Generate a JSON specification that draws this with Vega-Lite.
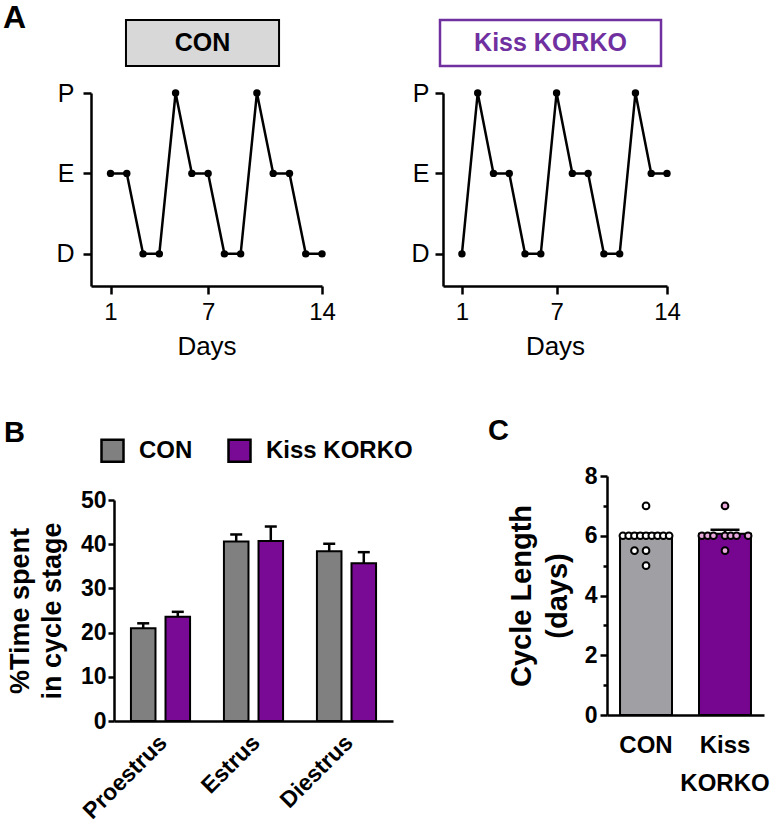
{
  "$schema": "https://vega.github.io/schema/vega-lite/v6.json",
  "padding": {"left": 3, "top": 1, "right": 5, "bottom": 5},
  "config": {
    "view": {"stroke": null},
    "font": "Liberation Sans",
    "axis": {"grid": false, "domainColor": "black", "tickColor": "black", "labelColor": "black", "titleColor": "black", "domainWidth": 2.5, "tickWidth": 2.5, "labelFont": "Liberation Sans", "titleFont": "Liberation Sans", "labelFlush": false, "labelOverlap": false},
    "title": {"font": "Liberation Sans", "color": "black", "fontWeight": "bold"}
  },
  "bounds": "flush",
  "align": "each",
  "columns": 2,
  "spacing": {"row": 190, "column": 50},
  "concat": [
    {
      "width": 231,
      "height": 193,
      "title": {"text": "A", "anchor": "start", "frame": "group", "fontSize": 32, "dx": -88, "dy": 20},
      "data": {"values": [
        {"day": 1, "stage": "E", "level": 2}, {"day": 2, "stage": "E", "level": 2}, {"day": 3, "stage": "D", "level": 1}, {"day": 4, "stage": "D", "level": 1},
        {"day": 5, "stage": "P", "level": 3}, {"day": 6, "stage": "E", "level": 2}, {"day": 7, "stage": "E", "level": 2}, {"day": 8, "stage": "D", "level": 1},
        {"day": 9, "stage": "D", "level": 1}, {"day": 10, "stage": "P", "level": 3}, {"day": 11, "stage": "E", "level": 2}, {"day": 12, "stage": "E", "level": 2},
        {"day": 13, "stage": "D", "level": 1}, {"day": 14, "stage": "D", "level": 1}
      ]},
      "layer": [
        {
          "data": {"values": [{"label": "CON"}]},
          "mark": {"type": "rect", "fill": "#d8d8d8", "stroke": "black", "strokeWidth": 2},
          "encoding": {
            "x": {"datum": 1.95, "type": "quantitative", "scale": {"domain": [-0.2, 14], "nice": false}},
            "x2": {"datum": 11.36},
            "y": {"datum": 3.336, "type": "quantitative", "scale": {"domain": [0.6, 3], "nice": false}},
            "y2": {"datum": 3.908}
          }
        },
        {
          "data": {"values": [{"label": "CON"}]},
          "mark": {"type": "text", "fontSize": 25, "fontWeight": "bold", "color": "black", "align": "center", "baseline": "middle"},
          "encoding": {
            "x": {"datum": 6.65, "type": "quantitative", "scale": {"domain": [-0.2, 14], "nice": false}},
            "y": {"datum": 3.622, "type": "quantitative", "scale": {"domain": [0.6, 3], "nice": false}},
            "text": {"field": "label"}
          }
        },
        {
          "mark": {"type": "line", "color": "black", "strokeWidth": 2.5},
          "encoding": {
            "x": {"field": "day", "type": "quantitative", "scale": {"domain": [-0.2, 14], "nice": false},
              "axis": {"values": [1, 7, 14], "title": "Days", "labelFontSize": 24, "titleFontSize": 26, "titleFontWeight": "normal", "tickSize": 8, "labelPadding": 6, "titlePadding": 9}},
            "y": {"field": "level", "type": "quantitative", "scale": {"domain": [0.6, 3], "nice": false},
              "axis": {"values": [1, 2, 3], "labelExpr": "datum.value == 3 ? 'P' : datum.value == 2 ? 'E' : 'D'", "title": null, "labelFontSize": 25, "tickSize": 8, "labelPadding": 9}}
          }
        },
        {
          "mark": {"type": "circle", "color": "black", "size": 55, "opacity": 1},
          "encoding": {
            "x": {"field": "day", "type": "quantitative", "scale": {"domain": [-0.2, 14], "nice": false}},
            "y": {"field": "level", "type": "quantitative", "scale": {"domain": [0.6, 3], "nice": false}}
          }
        }
      ]
    },
    {
      "width": 224,
      "height": 193,
      "data": {"values": [
        {"day": 1, "stage": "D", "level": 1}, {"day": 2, "stage": "P", "level": 3}, {"day": 3, "stage": "E", "level": 2}, {"day": 4, "stage": "E", "level": 2},
        {"day": 5, "stage": "D", "level": 1}, {"day": 6, "stage": "D", "level": 1}, {"day": 7, "stage": "P", "level": 3}, {"day": 8, "stage": "E", "level": 2},
        {"day": 9, "stage": "E", "level": 2}, {"day": 10, "stage": "D", "level": 1}, {"day": 11, "stage": "D", "level": 1}, {"day": 12, "stage": "P", "level": 3},
        {"day": 13, "stage": "E", "level": 2}, {"day": 14, "stage": "E", "level": 2}
      ]},
      "layer": [
        {
          "data": {"values": [{"label": "Kiss KORKO"}]},
          "mark": {"type": "rect", "fill": "white", "stroke": "#7030a0", "strokeWidth": 2.5},
          "encoding": {
            "x": {"datum": -0.39, "type": "quantitative", "scale": {"domain": [-0.2, 14], "nice": false}},
            "x2": {"datum": 13.62},
            "y": {"datum": 3.336, "type": "quantitative", "scale": {"domain": [0.6, 3], "nice": false}},
            "y2": {"datum": 3.908}
          }
        },
        {
          "data": {"values": [{"label": "Kiss KORKO"}]},
          "mark": {"type": "text", "fontSize": 25, "fontWeight": "bold", "color": "#7030a0", "align": "center", "baseline": "middle"},
          "encoding": {
            "x": {"datum": 6.615, "type": "quantitative", "scale": {"domain": [-0.2, 14], "nice": false}},
            "y": {"datum": 3.622, "type": "quantitative", "scale": {"domain": [0.6, 3], "nice": false}},
            "text": {"field": "label"}
          }
        },
        {
          "mark": {"type": "line", "color": "black", "strokeWidth": 2.5},
          "encoding": {
            "x": {"field": "day", "type": "quantitative", "scale": {"domain": [-0.2, 14], "nice": false},
              "axis": {"values": [1, 7, 14], "title": "Days", "labelFontSize": 24, "titleFontSize": 26, "titleFontWeight": "normal", "tickSize": 8, "labelPadding": 6, "titlePadding": 9}},
            "y": {"field": "level", "type": "quantitative", "scale": {"domain": [0.6, 3], "nice": false},
              "axis": {"values": [1, 2, 3], "labelExpr": "datum.value == 3 ? 'P' : datum.value == 2 ? 'E' : 'D'", "title": null, "labelFontSize": 25, "tickSize": 8, "labelPadding": 6}}
          }
        },
        {
          "mark": {"type": "circle", "color": "black", "size": 55, "opacity": 1},
          "encoding": {
            "x": {"field": "day", "type": "quantitative", "scale": {"domain": [-0.2, 14], "nice": false}},
            "y": {"field": "level", "type": "quantitative", "scale": {"domain": [0.6, 3], "nice": false}}
          }
        }
      ]
    },
    {
      "width": 302,
      "height": 245,
      "title": {"text": "B", "anchor": "start", "frame": "group", "fontSize": 29, "dx": -87, "dy": -24},
      "data": {"values": [
        {"stage": "Proestrus", "group": "CON", "mean": 21.0, "upper": 22.1},
        {"stage": "Proestrus", "group": "Kiss KORKO", "mean": 23.6, "upper": 24.7},
        {"stage": "Estrus", "group": "CON", "mean": 40.6, "upper": 42.2},
        {"stage": "Estrus", "group": "Kiss KORKO", "mean": 40.7, "upper": 44.0},
        {"stage": "Diestrus", "group": "CON", "mean": 38.4, "upper": 40.1},
        {"stage": "Diestrus", "group": "Kiss KORKO", "mean": 35.7, "upper": 38.2}
      ]},
      "encoding": {
        "x": {"field": "stage", "type": "nominal", "sort": ["Proestrus", "Estrus", "Diestrus"], "scale": {"range": [23, 302], "paddingInner": 0, "paddingOuter": 0},
          "axis": {"title": null, "labelAngle": -45, "labelFontSize": 23, "labelFontWeight": "bold", "ticks": false, "labelPadding": 10, "labelOffset": -5}},
        "xOffset": {"field": "group", "type": "nominal", "sort": ["CON", "Kiss KORKO"], "scale": {"range": [0, 93], "paddingInner": 0.29, "paddingOuter": 0.49}}
      },
      "layer": [
        {
          "mark": {"type": "bar", "stroke": "black", "strokeWidth": 2},
          "encoding": {
            "y": {"field": "mean", "type": "quantitative", "scale": {"domain": [0, 50], "nice": false, "range": [245, 24]},
              "axis": {"values": [0, 10, 20, 30, 40, 50], "offset": -23, "title": ["%Time spent", "in cycle stage"], "titleFontSize": 27, "titleFontWeight": "bold", "titleLineHeight": 32, "labelFontSize": 23, "labelFontWeight": "bold", "tickSize": 6, "labelPadding": 2, "titlePadding": 14}},
            "fill": {"field": "group", "type": "nominal", "scale": {"domain": ["CON", "Kiss KORKO"], "range": ["#808080", "#780a96"]},
              "legend": {"orient": "none", "legendX": 9, "legendY": 345, "direction": "horizontal", "title": null, "symbolType": "square", "symbolSize": 484, "symbolStrokeColor": "black", "symbolStrokeWidth": 2.5, "labelFontSize": 24, "labelFontWeight": "bold", "labelColor": "black", "labelFont": "Liberation Sans", "labelOffset": 14, "columnPadding": 30}}
          }
        },
        {
          "mark": {"type": "rule", "color": "black", "strokeWidth": 2.5},
          "encoding": {
            "y": {"field": "mean", "type": "quantitative"},
            "y2": {"field": "upper"}
          }
        },
        {
          "mark": {"type": "tick", "color": "black", "thickness": 2.5, "size": 12, "opacity": 1},
          "encoding": {
            "y": {"field": "upper", "type": "quantitative"}
          }
        }
      ]
    },
    {
      "width": 321,
      "height": 239,
      "title": {"text": "C", "anchor": "start", "frame": "group", "fontSize": 29, "dx": 45, "dy": -15},
      "layer": [
        {
          "data": {"values": [
            {"group": "CON", "mean": 5.95, "upper": 6.08},
            {"group": "Kiss KORKO", "mean": 6.07, "upper": 6.2}
          ]},
          "layer": [
            {
              "mark": {"type": "bar", "stroke": "black", "strokeWidth": 2},
              "encoding": {
                "x": {"field": "group", "type": "nominal", "sort": ["CON", "Kiss KORKO"], "scale": {"range": [164, 321], "paddingInner": 0.342, "paddingOuter": 0.165},
                  "axis": {"title": null, "ticks": false, "labelAngle": 0, "labelFontSize": 24, "labelFontWeight": "bold", "labelPadding": 18, "labelLineHeight": 38, "labelExpr": "datum.value == 'Kiss KORKO' ? ['Kiss', 'KORKO'] : datum.value"}},
                "y": {"field": "mean", "type": "quantitative", "scale": {"domain": [0, 8], "nice": false},
                  "axis": {"values": [0, 2, 4, 6, 8], "offset": -164, "orient": "left", "title": ["Cycle Length", "(days)"], "titleFontSize": 29, "titleFontWeight": "bold", "titleLineHeight": 36, "labelFontSize": 23, "labelFontWeight": "bold", "tickSize": 7, "labelPadding": 3, "titlePadding": 12}},
                "fill": {"field": "group", "type": "nominal", "scale": {"domain": ["CON", "Kiss KORKO"], "range": ["#a0a0a4", "#76068f"]}, "legend": null}
              }
            },
            {
              "mark": {"type": "rule", "color": "black", "strokeWidth": 2.5},
              "encoding": {
                "x": {"field": "group", "type": "nominal", "sort": ["CON", "Kiss KORKO"]},
                "y": {"field": "mean", "type": "quantitative"},
                "y2": {"field": "upper"}
              }
            },
            {
              "mark": {"type": "tick", "color": "black", "thickness": 2.5, "size": 29, "opacity": 1},
              "encoding": {
                "x": {"field": "group", "type": "nominal", "sort": ["CON", "Kiss KORKO"]},
                "y": {"field": "upper", "type": "quantitative"}
              }
            }
          ]
        },
        {
          "data": {"values": [
            {"group": "CON", "value": 7, "slot": "e"},
            {"group": "CON", "value": 6, "slot": "a"}, {"group": "CON", "value": 6, "slot": "b"}, {"group": "CON", "value": 6, "slot": "c"},
            {"group": "CON", "value": 6, "slot": "d"}, {"group": "CON", "value": 6, "slot": "e"}, {"group": "CON", "value": 6, "slot": "f"},
            {"group": "CON", "value": 6, "slot": "g"}, {"group": "CON", "value": 6, "slot": "h"}, {"group": "CON", "value": 6, "slot": "i"},
            {"group": "CON", "value": 5.5, "slot": "c"}, {"group": "CON", "value": 5.5, "slot": "e"},
            {"group": "CON", "value": 5, "slot": "e"},
            {"group": "Kiss KORKO", "value": 7, "slot": "e"},
            {"group": "Kiss KORKO", "value": 6, "slot": "a"}, {"group": "Kiss KORKO", "value": 6, "slot": "b"}, {"group": "Kiss KORKO", "value": 6, "slot": "c"},
            {"group": "Kiss KORKO", "value": 6, "slot": "e"}, {"group": "Kiss KORKO", "value": 6, "slot": "f"}, {"group": "Kiss KORKO", "value": 6, "slot": "g"},
            {"group": "Kiss KORKO", "value": 6, "slot": "i"},
            {"group": "Kiss KORKO", "value": 5.5, "slot": "e"}
          ]},
          "mark": {"type": "point", "shape": "circle", "filled": true, "size": 45, "stroke": "black", "strokeWidth": 2, "opacity": 1},
          "encoding": {
            "x": {"field": "group", "type": "nominal", "sort": ["CON", "Kiss KORKO"]},
            "xOffset": {"field": "slot", "type": "nominal", "sort": ["a", "b", "c", "d", "e", "f", "g", "h", "i"], "scale": {"type": "point", "padding": 0.5, "range": [0, 52]}},
            "y": {"field": "value", "type": "quantitative",
              "axis": {"values": [1, 3, 5, 7], "labels": false, "domain": false, "tickSize": 4, "title": null, "orient": "left", "offset": -164}},
            "fill": {"field": "group", "type": "nominal", "scale": {"domain": ["CON", "Kiss KORKO"], "range": ["white", "#e8a8dc"]}, "legend": null}
          }
        }
      ],
      "resolve": {"scale": {"fill": "independent", "xOffset": "independent"}, "axis": {"y": "independent"}}
    }
  ]
}
